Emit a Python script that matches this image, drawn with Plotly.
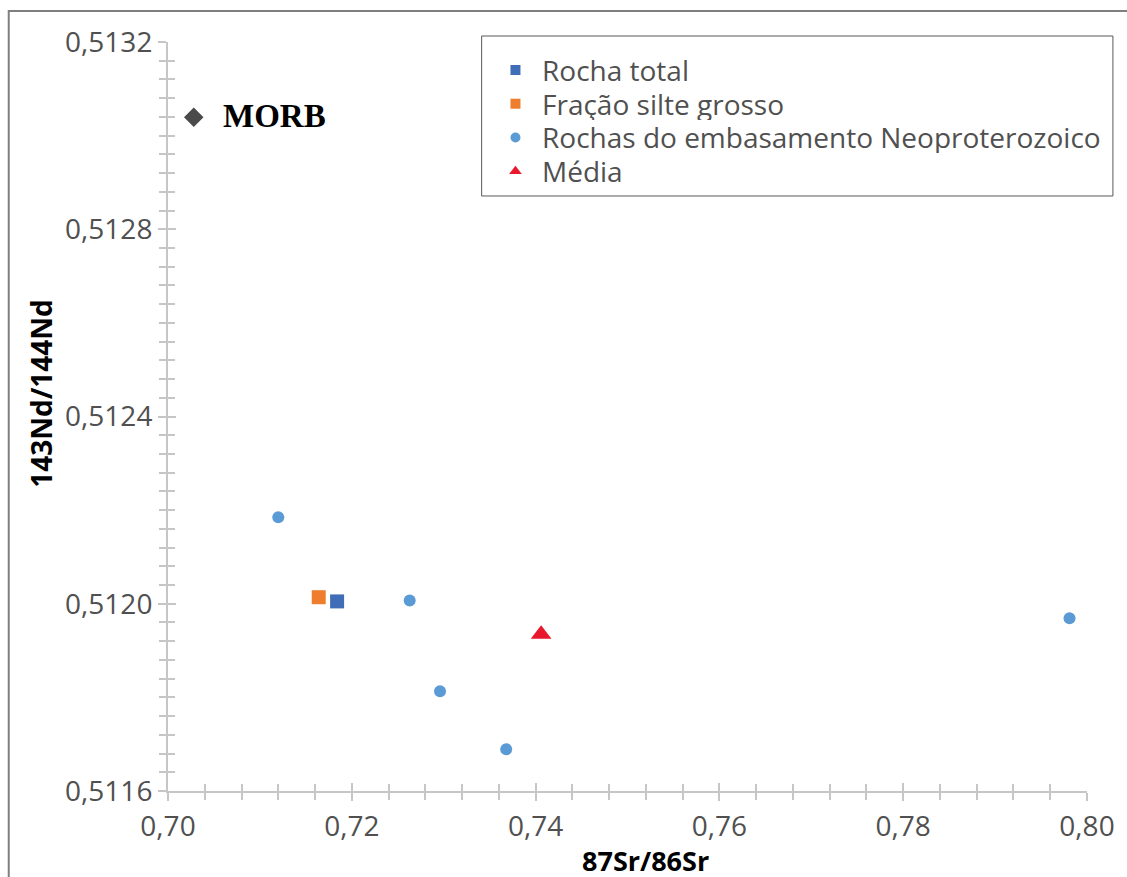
import plotly.graph_objects as go

# 87Sr/86Sr vs 143Nd/144Nd
rocha_x = [0.7184]
rocha_y = [0.512005]
silte_x = [0.7164]
silte_y = [0.512014]
embas_x = [0.7120, 0.7263, 0.7296, 0.7368, 0.7981]
embas_y = [0.512185, 0.512007, 0.511813, 0.511689, 0.511969]
media_x = [0.7406]
media_y = [0.511935]
morb_x = [0.7028]
morb_y = [0.513039]

x_ticks = [0.70, 0.72, 0.74, 0.76, 0.78, 0.80]
y_ticks = [0.5116, 0.5120, 0.5124, 0.5128, 0.5132]

legend_names = ["Rocha total", "Fração silte grosso",
                "Rochas do embasamento Neoproterozoico", "Média"]

C_ROCHA = "#3F6DB8"
C_SILTE = "#EE7D2E"
C_EMBAS = "#5B9BD5"
C_MEDIA = "#E8192C"
C_MORB = "#4A4A4A"
AXIS = "#C6C6C6"
TXT = "#505050"
FONT = "Open Sans"

fig = go.Figure()

# data marks
fig.add_trace(go.Scatter(x=morb_x, y=morb_y, mode="markers", name="MORB",
                         marker=dict(symbol="diamond", size=15, color=C_MORB)))
fig.add_trace(go.Scatter(x=embas_x, y=embas_y, mode="markers", name=legend_names[2],
                         marker=dict(symbol="circle", size=12, color=C_EMBAS)))
fig.add_trace(go.Scatter(x=silte_x, y=silte_y, mode="markers", name=legend_names[1],
                         marker=dict(symbol="square", size=14, color=C_SILTE)))
fig.add_trace(go.Scatter(x=rocha_x, y=rocha_y, mode="markers", name=legend_names[0],
                         marker=dict(symbol="square", size=14, color=C_ROCHA)))
fig.add_trace(go.Scatter(x=media_x, y=media_y, mode="markers", name=legend_names[3],
                         marker=dict(symbol="triangle-up", size=18, color=C_MEDIA)))

# hand-built legend: box, keys on a unit overlay axis, labels as annotations
LEG_X0, LEG_X1, LEG_Y0, LEG_Y1 = 0.3413, 1.0282, 0.7944, 1.008
KEY_X, TEXT_X = 0.3781, 0.4063
ROW0, ROW_STEP = 0.9626, 0.0450
key_styles = [("square", 10, C_ROCHA), ("square", 10, C_SILTE),
              ("circle", 10, C_EMBAS), ("triangle-up", 11, C_MEDIA)]
fig.add_shape(type="rect", xref="paper", yref="paper",
              x0=LEG_X0, x1=LEG_X1, y0=LEG_Y0, y1=LEG_Y1,
              line=dict(color="#595959", width=1), fillcolor="white", layer="below")
for i, (name, (sym, sz, col)) in enumerate(zip(legend_names, key_styles)):
    row_y = ROW0 - i * ROW_STEP
    fig.add_trace(go.Scatter(x=[KEY_X], y=[row_y], xaxis="x3", yaxis="y3",
                             mode="markers", hoverinfo="skip",
                             marker=dict(symbol=sym, size=sz, color=col)))
    fig.add_annotation(text=name, xref="paper", yref="paper", x=TEXT_X, y=row_y,
                       xanchor="left", yanchor="middle", showarrow=False,
                       height=32, valign="middle", borderpad=0,
                       font=dict(size=28, family=FONT, color=TXT))

# companion axes carrying inward ticks so the ticks cross the axis lines
fig.add_trace(go.Scatter(x=[None], y=[None], xaxis="x2", yaxis="y2", hoverinfo="skip"))

common = dict(showgrid=False, zeroline=False, showline=True, linecolor=AXIS,
              linewidth=2, tickcolor=AXIS, tickwidth=1.5, ticklen=8)
minor_x = dict(dtick=0.004, ticklen=7, tickcolor=AXIS, tickwidth=1.5)
minor_y = dict(dtick=0.00004, ticklen=7, tickcolor=AXIS, tickwidth=1.5)

fig.update_layout(
    width=1127, height=877,
    margin=dict(l=168, r=34, t=42, b=86),
    paper_bgcolor="white", plot_bgcolor="white",
    separators=",.",
    showlegend=False,
    font=dict(family=FONT, color=TXT),
    xaxis=dict(range=[0.70, 0.80], tickvals=x_ticks, tickformat=".2f",
               ticks="outside", tickfont=dict(size=28, color=TXT),
               ticklabelstandoff=1, minor=dict(ticks="outside", **minor_x),
               **common),
    yaxis=dict(range=[0.5116, 0.5132], tickvals=y_ticks, tickformat=".4f",
               ticks="outside", tickfont=dict(size=28, color=TXT),
               ticklabelstandoff=0, minor=dict(ticks="outside", **minor_y),
               **common),
    xaxis2=dict(overlaying="x", matches="x", anchor="y2", side="bottom",
                tickvals=x_ticks, ticks="inside", showticklabels=False,
                minor=dict(ticks="inside", **minor_x), **common),
    yaxis2=dict(overlaying="y", matches="y", anchor="x2", side="left",
                tickvals=y_ticks, ticks="inside", showticklabels=False,
                minor=dict(ticks="inside", **minor_y), **common),
    xaxis3=dict(overlaying="x", anchor="y3", range=[0, 1], visible=False),
    yaxis3=dict(overlaying="y", anchor="x3", range=[0, 1], visible=False),
)

# axis titles
fig.add_annotation(text="<b>87Sr/86Sr</b>", xref="paper", yref="paper",
                   x=0.520, y=-0.0925, xanchor="center", yanchor="middle",
                   showarrow=False, height=30, borderpad=0,
                   font=dict(size=27, color="black", family=FONT))
fig.add_annotation(text="<b>143Nd/144Nd</b>", xref="paper", yref="paper",
                   x=-0.1376, y=0.531, xanchor="center", yanchor="middle",
                   textangle=-90, showarrow=False,
                   font=dict(size=28, color="black", family=FONT))

# MORB label beside its marker
fig.add_annotation(text="<b>MORB</b>", x=morb_x[0], y=morb_y[0],
                   xanchor="left", yanchor="middle", xshift=27, yshift=1,
                   showarrow=False,
                   font=dict(size=33, color="black", family="Liberation Serif"))

# outer frame around the figure
fig.add_shape(type="rect", xref="paper", yref="paper",
              x0=-0.1733, x1=1.2, y0=1.0414, y1=-0.2,
              line=dict(color="#7F7F7F", width=2), fillcolor="rgba(0,0,0,0)",
              layer="below")

fig.write_html("out.html")
